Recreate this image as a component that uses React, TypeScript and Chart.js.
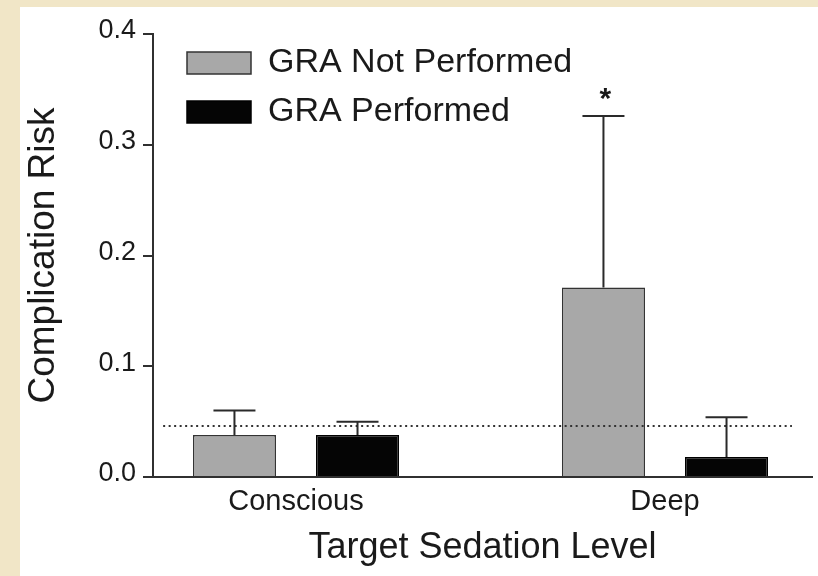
import React, { useEffect, useRef } from 'react';
import { Chart, registerables } from 'chart.js';

Chart.register(...registerables);

// ---- data ----
const categories = ['Conscious', 'Deep'];
const categoryPositions = [1, 2];
const seriesLabels = ['GRA Not Performed', 'GRA Performed'];
const notPerformed = [0.038, 0.171];
const performed = [0.038, 0.018];
const notPerformedErr = [0.022, 0.155];
const performedErr = [0.012, 0.036];
const notPerformedMarks = ['', '*'];
const performedMarks = ['', ''];
const yTicks = [0, 0.1, 0.2, 0.3, 0.4];
const refLineValue = 0.046;
const refLineSpan = [0.64, 2.344];
const xRange = [0.6125, 2.3984];

const FONT = '"Liberation Sans", Arial, Helvetica, sans-serif';
const TEXT = '#1a1a1a';
const AXIS = '#303030';

const errorBarPlugin = {
  id: 'errorBars',
  afterDatasetsDraw(chart: any) {
    const ctx = chart.ctx;
    const yScale = chart.scales.y;
    chart.data.datasets.forEach((ds: any, di: number) => {
      if (!ds.errors) return;
      const meta = chart.getDatasetMeta(di);
      meta.data.forEach((bar: any, i: number) => {
        const v = ds.data[i].y;
        const top = yScale.getPixelForValue(v + ds.errors[i]);
        ctx.save();
        ctx.strokeStyle = '#2a2a2a';
        ctx.lineWidth = 2;
        ctx.beginPath();
        ctx.moveTo(bar.x, bar.y);
        ctx.lineTo(bar.x, top);
        ctx.moveTo(bar.x - 21, top);
        ctx.lineTo(bar.x + 21, top);
        ctx.stroke();
        const mark = ds.marks ? ds.marks[i] : '';
        if (mark) {
          ctx.fillStyle = TEXT;
          ctx.font = `bold 30px ${FONT}`;
          ctx.textAlign = 'center';
          ctx.textBaseline = 'alphabetic';
          ctx.fillText(mark, bar.x + 2, top - 8);
        }
        ctx.restore();
      });
    });
  },
};

const legendPlacePlugin = {
  id: 'legendPlace',
  afterLayout(chart: any) {
    const lg = chart.legend;
    if (!lg) return;
    lg.left = chart.chartArea.left + 19;
    lg.top = chart.chartArea.top - 3;
  },
};

export default function App() {
  const ref = useRef<HTMLCanvasElement | null>(null);

  useEffect(() => {
    if (!ref.current) return;
    Chart.defaults.font.family = FONT;
    const chart = new Chart(ref.current, {
      type: 'bar',
      data: {
        datasets: [
          {
            type: 'bar',
            label: seriesLabels[0],
            data: categoryPositions.map((x, i) => ({ x, y: notPerformed[i] })),
            backgroundColor: '#a8a8a8',
            borderColor: '#333333',
            borderWidth: 1.5,
            categoryPercentage: 0.667,
            barPercentage: 0.675,
            errors: notPerformedErr,
            marks: notPerformedMarks,
          } as any,
          {
            type: 'bar',
            label: seriesLabels[1],
            data: categoryPositions.map((x, i) => ({ x, y: performed[i] })),
            backgroundColor: '#050505',
            borderColor: '#000000',
            borderWidth: 1.5,
            categoryPercentage: 0.667,
            barPercentage: 0.675,
            errors: performedErr,
            marks: performedMarks,
          } as any,
          {
            type: 'line',
            label: 'reference',
            data: refLineSpan.map((x) => ({ x, y: refLineValue })),
            borderColor: '#333333',
            borderWidth: 2,
            borderDash: [2, 3.5],
            pointRadius: 0,
            order: -1,
          } as any,
        ],
      },
      options: {
        responsive: false,
        maintainAspectRatio: false,
        animation: false,
        layout: { padding: { top: 34, right: 6, left: 0, bottom: 0 } },
        plugins: {
          tooltip: { enabled: false },
          legend: {
            position: 'chartArea',
            align: 'start',
            labels: {
              filter: (item: any) => item.datasetIndex < 2,
              boxWidth: 64,
              boxHeight: 22,
              padding: 15,
              color: TEXT,
              font: { size: 34 },
            },
          },
        },
        scales: {
          x: {
            type: 'linear',
            offset: false,
            min: xRange[0],
            max: xRange[1],
            bounds: 'data',
            afterFit: (s: any) => {
              s.height = 99;
            },
            afterBuildTicks: (s: any) => {
              s.ticks = categoryPositions.map((v) => ({ value: v }));
            },
            ticks: {
              callback: (_v: any, i: number) => categories[i],
              font: { size: 29 },
              color: TEXT,
              padding: 8,
              maxRotation: 0,
              autoSkip: false,
            },
            grid: { display: false, drawTicks: false, offset: false },
            border: { display: true, color: AXIS, width: 2 },
            title: {
              display: true,
              text: 'Target Sedation Level',
              font: { size: 36 },
              color: TEXT,
              padding: { top: 0, bottom: 6 },
            },
          },
          y: {
            min: 0,
            max: 0.4,
            afterFit: (s: any) => {
              s.width = 153;
            },
            afterBuildTicks: (s: any) => {
              s.ticks = yTicks.map((v) => ({ value: v }));
            },
            ticks: {
              callback: (v: any) => Number(v).toFixed(1),
              font: { size: 27 },
              color: TEXT,
              padding: 7,
              labelOffset: -3,
            },
            grid: { drawOnChartArea: false, drawTicks: true, tickLength: 10, color: AXIS, lineWidth: 2 },
            border: { display: true, color: AXIS, width: 2 },
            title: {
              display: true,
              text: 'Complication Risk',
              font: { size: 37 },
              color: TEXT,
              padding: { top: 22, bottom: 0 },
            },
          },
        },
      } as any,
      plugins: [errorBarPlugin, legendPlacePlugin],
    });
    return () => chart.destroy();
  }, []);

  return (
    <div style={{ position: 'absolute', left: 0, top: 0, width: 818, height: 576, background: '#f1e6c7', overflow: 'hidden' }}>
      <div style={{ position: 'absolute', left: 20, top: 7, right: 0, bottom: 0, background: '#ffffff' }} />
      <canvas ref={ref} width={818} height={576} style={{ position: 'absolute', left: 0, top: 0, width: 818, height: 576 }} />
    </div>
  );
}
